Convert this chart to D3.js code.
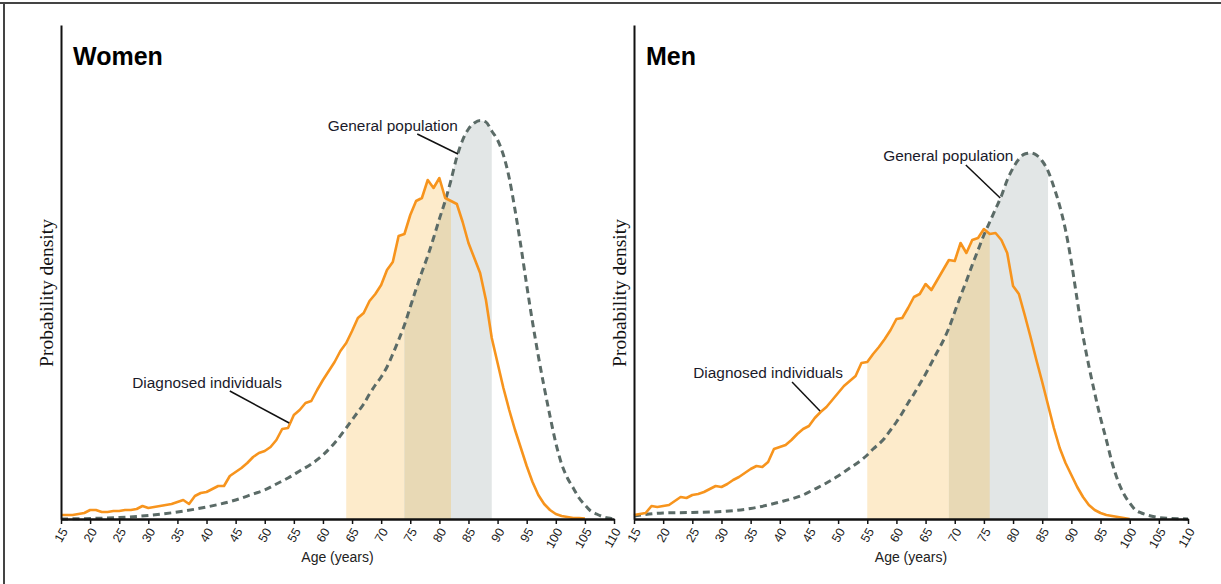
<!doctype html>
<html>
<head>
<meta charset="utf-8">
<title>Age at diagnosis vs general population</title>
<style>
  body { margin: 0; background: #fff; }
  svg { display: block; font-family: "Liberation Sans", Arial, sans-serif; }
  .axis path, .axis line { stroke: #111; }
  .axis text { fill: #1a1a1a; }
</style>
<script src="https://d3js.org/d3.v7.min.js"></script>
</head>
<body>
<svg width="1221" height="584"></svg>
<script>
// x ticks (age, years)
const TICK_AGES = [15, 20, 25, 30, 35, 40, 45, 50, 55, 60, 65, 70, 75, 80, 85, 90, 95, 100, 105, 110];

// density values (arbitrary units, same scale both panels)
// diagnosed individuals: one value per year, starting at age 15
const WOMEN_DIAG = [
  0.4, 0.4, 0.4, 0.5, 0.6, 0.9, 0.9, 0.7, 0.7, 0.8,
  0.8, 0.9, 0.9, 1.0, 1.3, 1.1, 1.2, 1.3, 1.4, 1.5,
  1.7, 1.9, 1.5, 2.3, 2.6, 2.7, 3.0, 3.3, 3.3, 4.3,
  4.7, 5.1, 5.6, 6.2, 6.6, 6.8, 7.2, 7.9, 9.0, 9.1,
  10.4, 10.9, 11.6, 11.8, 12.9, 13.9, 14.8, 15.7, 16.8, 17.6,
  18.8, 20.1, 20.6, 21.8, 22.5, 23.4, 24.9, 25.7, 28.3, 28.5,
  30.4, 31.8, 32.1, 33.9, 33.1, 34.1, 32.1, 31.8, 31.5, 29.7,
  27.6, 26.1, 24.6, 21.9, 18.1, 15.6, 13.1, 10.9, 8.9, 7.1,
  5.3, 3.7, 2.4, 1.5, 0.9, 0.5, 0.3, 0.2, 0.1, 0.1, 0.05
];
const MEN_DIAG = [
  0.4, 0.5, 0.6, 1.3, 1.2, 1.3, 1.4, 1.8, 2.2, 2.1,
  2.4, 2.5, 2.7, 3.0, 3.3, 3.2, 3.5, 3.9, 4.2, 4.6,
  5.0, 5.3, 5.2, 5.7, 7.0, 7.2, 7.4, 7.9, 8.5, 9.0,
  9.3, 10.1, 10.7, 11.2, 11.9, 12.6, 13.3, 13.8, 14.3, 15.6,
  15.7, 16.5, 17.2, 18.0, 18.9, 20.0, 20.1, 21.1, 22.2, 22.5,
  23.5, 22.9, 23.9, 24.9, 25.9, 25.8, 27.6, 26.6, 27.9, 28.1,
  29.0, 28.5, 28.6, 27.9, 26.6, 23.3, 22.5, 20.4, 18.2, 15.9,
  13.7, 11.4, 9.1, 7.1, 5.6, 4.4, 3.2, 2.2, 1.4, 0.9,
  0.6, 0.4, 0.3, 0.2, 0.1, 0.0
];
const DIAG_START_AGE = 15;

// general population
const WOMEN_POP_AGES = [15, 20, 25, 30, 35, 40, 45, 48, 50, 52, 54, 56, 58, 60, 62, 64, 65, 66, 67, 68,
  69, 70, 71, 72, 73, 74, 75, 76, 77, 78, 79, 80, 81, 82, 83, 84, 85, 86, 87, 88,
  89, 90, 91, 92, 93, 94, 95, 96, 97, 98, 99, 100, 101, 102, 103, 104, 105, 106, 107, 108, 109, 110];
const WOMEN_POP = [0, 0.05, 0.15, 0.35, 0.7, 1.2, 1.9, 2.5, 2.9, 3.5, 4.1, 4.8, 5.5, 6.4, 7.6, 9.1, 9.9, 10.7, 11.5, 12.5,
  13.4, 14.2, 15.2, 16.5, 17.9, 19.4, 21.2, 23.0, 24.7, 26.3, 28.1, 30.0, 31.8, 33.9, 36.2, 37.9, 39.0, 39.6, 39.85, 39.7,
  38.8, 37.9, 36.4, 34.1, 30.9, 27.3, 23.4, 19.7, 16.3, 13.2, 10.3, 7.6, 5.5, 4.1, 3.1, 2.1, 1.4, 0.8, 0.5, 0.25, 0.1, 0];
const MEN_POP_AGES = [15, 20, 25, 30, 35, 38, 40, 42, 44, 46, 48, 50, 52, 54, 55, 56, 57, 58, 59, 60,
  61, 62, 63, 64, 65, 66, 67, 68, 69, 70, 71, 72, 73, 74, 75, 76, 77, 78, 79, 80,
  81, 82, 83, 84, 85, 86, 87, 88, 89, 90, 91, 92, 93, 94, 95, 96, 97, 98, 99, 100,
  101, 102, 103, 104, 105, 110];
const MEN_POP = [0.3, 0.6, 0.65, 0.75, 1.05, 1.4, 1.7, 2.0, 2.4, 3.0, 3.6, 4.3, 5.1, 5.9, 6.4, 7.0, 7.5, 8.1, 8.9, 9.7,
  10.6, 11.6, 12.5, 13.5, 14.5, 15.6, 16.7, 17.8, 19.1, 20.7, 22.3, 23.8, 25.4, 26.9, 28.4, 29.7, 31.0, 32.3, 33.9, 35.1,
  36.0, 36.5, 36.6, 36.4, 35.8, 34.8, 33.2, 31.3, 28.9, 25.7, 21.9, 18.3, 15.3, 12.6, 10.1, 7.9, 5.6, 3.8, 2.5, 1.6,
  0.9, 0.6, 0.4, 0.25, 0.15, 0];

// shaded age bands [from, to]
const WOMEN_DIAG_BAND = [64, 82];
const WOMEN_POP_BAND = [74, 89];
const MEN_DIAG_BAND = [55, 76];
const MEN_POP_BAND = [69, 86];

const ORANGE = "#f7941d";
const DASH = "#5b6b67";

const svg = d3.select("svg");

// frame of the figure
svg.append("line").attr("x1", 0).attr("x2", 1221).attr("y1", 3).attr("y2", 3)
  .attr("stroke", "#444").attr("stroke-width", 2);
svg.append("line").attr("x1", 4).attr("x2", 4).attr("y1", 3).attr("y2", 584)
  .attr("stroke", "#444").attr("stroke-width", 2);

const panels = [
  { title: "Women", left: 61, right: 614, diag: WOMEN_DIAG, popAges: WOMEN_POP_AGES, pop: WOMEN_POP,
    diagBand: WOMEN_DIAG_BAND, popBand: WOMEN_POP_BAND,
    notes: [
      { text: "General population", at: [72.0, 38.85], from: [76.2, 38.5], to: [83.2, 36.5] },
      { text: "Diagnosed individuals", at: [40.1, 13.15], from: [44.0, 12.8], to: [54.2, 9.6] }
    ] },
  { title: "Men", left: 634, right: 1188, diag: MEN_DIAG, popAges: MEN_POP_AGES, pop: MEN_POP,
    diagBand: MEN_DIAG_BAND, popBand: MEN_POP_BAND,
    notes: [
      { text: "General population", at: [68.9, 35.85], from: [71.9, 35.4], to: [77.8, 32.1] },
      { text: "Diagnosed individuals", at: [38.0, 14.15], from: [42.1, 13.7], to: [46.9, 10.8] }
    ] }
];

const plotBottom = 519, plotTop = 25;

panels.forEach((p, i) => {
  const x = d3.scaleLinear().domain([15, 110]).range([p.left, p.right]);
  const y = d3.scaleLinear().domain([0, 49.4]).range([plotBottom, plotTop]);

  const diagPts = p.diag.map((v, k) => ({ age: DIAG_START_AGE + k, v: v }));
  const popPts = p.popAges.map((a, k) => ({ age: a, v: p.pop[k] }));

  const inBand = (band) => (d) => d.age >= band[0] && d.age <= band[1];

  const diagArea = d3.area().x(d => x(d.age)).y0(plotBottom).y1(d => y(d.v));
  const popArea = d3.area().curve(d3.curveMonotoneX).x(d => x(d.age)).y0(plotBottom).y1(d => y(d.v));

  const g = svg.append("g");

  // clip for the overlap of the two bands
  const clipId = "diagclip" + i;
  g.append("clipPath").attr("id", clipId)
    .append("path").attr("d", diagArea(diagPts.filter(inBand(p.diagBand))));

  g.append("path").attr("d", diagArea(diagPts.filter(inBand(p.diagBand))))
    .attr("fill", "#fdebcb");
  g.append("path").attr("d", popArea(popPts.filter(inBand(p.popBand))))
    .attr("fill", "#e2e6e6");
  g.append("path").attr("d", popArea(popPts.filter(inBand(p.popBand))))
    .attr("fill", "#e8d9b5").attr("clip-path", "url(#" + clipId + ")");

  // general population (dashed)
  g.append("path")
    .attr("d", d3.line().curve(d3.curveMonotoneX).x(d => x(d.age)).y(d => y(d.v))(popPts))
    .attr("fill", "none").attr("stroke", DASH).attr("stroke-width", 3)
    .attr("stroke-dasharray", "7,4.5");

  // diagnosed individuals
  g.append("path")
    .attr("d", d3.line().x(d => x(d.age)).y(d => y(d.v))(diagPts))
    .attr("fill", "none").attr("stroke", ORANGE).attr("stroke-width", 2.6)
    .attr("stroke-linejoin", "round");

  // axes
  const xAxis = g.append("g").attr("class", "axis")
    .attr("transform", "translate(0," + plotBottom + ")")
    .call(d3.axisBottom(x).tickValues(TICK_AGES).tickSize(5).tickSizeOuter(0));
  xAxis.select(".domain").attr("stroke-width", 2.5);
  xAxis.selectAll(".tick line").attr("stroke-width", 1.5);
  xAxis.selectAll(".tick text")
    .attr("font-size", 12.5)
    .attr("font-family", "'Liberation Sans', Arial, sans-serif")
    .attr("text-anchor", "end")
    .attr("x", 0).attr("y", 0).attr("dy", "0.35em")
    .attr("transform", "translate(3,10) rotate(-60)");

  const yAxis = g.append("g").attr("class", "axis")
    .attr("transform", "translate(" + p.left + ",0)")
    .call(d3.axisLeft(y).tickValues([]).tickSizeOuter(0));
  yAxis.select(".domain").attr("stroke-width", 2);

  g.append("text")
    .attr("x", (p.left + p.right) / 2).attr("y", 562)
    .attr("text-anchor", "middle").attr("font-size", 14).attr("fill", "#222")
    .text("Age (years)");

  g.append("text")
    .attr("transform", "translate(" + (p.left - 8) + ",293) rotate(-90)")
    .attr("text-anchor", "middle")
    .attr("font-family", "'Liberation Serif', 'Times New Roman', serif")
    .attr("font-size", 19.5).attr("fill", "#111")
    .text("Probability density");

  g.append("text")
    .attr("x", p.left + 12).attr("y", 65)
    .attr("font-size", 25).attr("font-weight", "bold").attr("fill", "#000")
    .text(p.title);

  // annotations with leader lines
  p.notes.forEach(n => {
    g.append("line")
      .attr("x1", x(n.from[0])).attr("y1", y(n.from[1]))
      .attr("x2", x(n.to[0])).attr("y2", y(n.to[1]))
      .attr("stroke", "#111").attr("stroke-width", 1.5);
    g.append("text")
      .attr("x", x(n.at[0])).attr("y", y(n.at[1]))
      .attr("text-anchor", "middle").attr("font-size", 15.4).attr("fill", "#1a1a2a")
      .text(n.text);
  });
});
</script>
</body>
</html>
